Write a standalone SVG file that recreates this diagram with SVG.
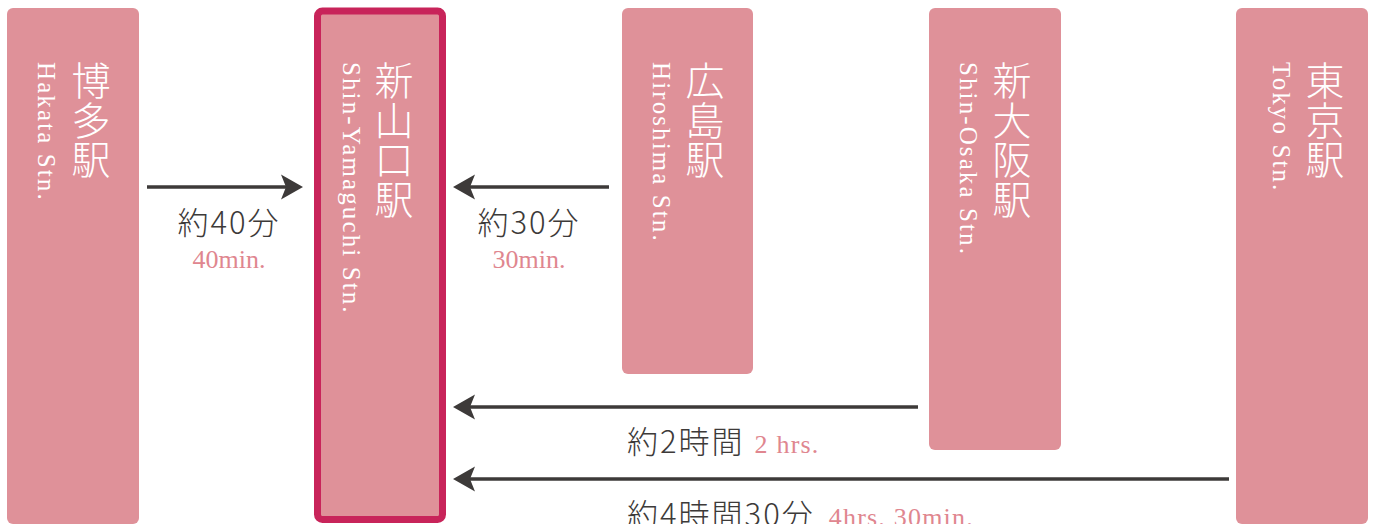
<svg xmlns="http://www.w3.org/2000/svg" width="1373" height="524" viewBox="0 0 1373 524">
<style>
.box{fill:#df9199}
.sel{fill:#df9199;stroke:#c8245a;stroke-width:7}
.jp{font-family:"Noto Sans CJK JP",sans-serif;font-weight:300;font-size:39px;fill:#fff;text-anchor:middle}
.en{font-family:"Liberation Serif",serif;font-size:25px;letter-spacing:2.1px;fill:#fff}
.lbl{font-family:"Noto Sans CJK JP",sans-serif;font-weight:300;font-size:31px;letter-spacing:2px;fill:#3d3a39}
.sub{font-family:"Liberation Serif",serif;font-size:26px;fill:#e0868f}
.subw{letter-spacing:1.2px}
.con{stroke:#3d3a39;stroke-width:3.5;fill:none;marker-end:url(#ah)}
</style>
<defs>
<marker id="ah" viewBox="-8 -13 24 26" markerWidth="24" markerHeight="26" refX="0" refY="0" markerUnits="userSpaceOnUse" orient="auto">
<path d="M15,0 L-7,-12.5 L-2,0 L-7,12.5 Z" fill="#3d3a39"/>
</marker>
</defs>
<g id="hakata">
<rect class="box" x="7" y="8" width="132" height="516" rx="6"/>
<text class="jp"><tspan x="91" y="95">博</tspan><tspan x="91" y="134.5">多</tspan><tspan x="91" y="174">駅</tspan></text>
<text class="en" transform="translate(38,62) rotate(90)">Hakata Stn.</text>
</g>
<g id="shinyamaguchi">
<rect class="sel" x="317.5" y="11" width="125" height="508.5" rx="5"/>
<text class="jp"><tspan x="394" y="95">新</tspan><tspan x="394" y="134.5">山</tspan><tspan x="394" y="174">口</tspan><tspan x="394" y="213.5">駅</tspan></text>
<text class="en" transform="translate(343,62) rotate(90)">Shin-Yamaguchi Stn.</text>
</g>
<g id="hiroshima">
<rect class="box" x="622" y="8" width="131" height="366" rx="6"/>
<text class="jp"><tspan x="705" y="95">広</tspan><tspan x="705" y="134.5">島</tspan><tspan x="705" y="174">駅</tspan></text>
<text class="en" transform="translate(653,62) rotate(90)">Hiroshima Stn.</text>
</g>
<g id="shinosaka">
<rect class="box" x="929" y="8" width="132" height="442" rx="6"/>
<text class="jp"><tspan x="1012" y="95">新</tspan><tspan x="1012" y="134.5">大</tspan><tspan x="1012" y="174">阪</tspan><tspan x="1012" y="213.5">駅</tspan></text>
<text class="en" transform="translate(960,62) rotate(90)">Shin-Osaka Stn.</text>
</g>
<g id="tokyo">
<rect class="box" x="1236" y="8" width="132" height="516" rx="6"/>
<text class="jp"><tspan x="1325" y="95">東</tspan><tspan x="1325" y="134.5">京</tspan><tspan x="1325" y="174">駅</tspan></text>
<text class="en" transform="translate(1273,62) rotate(90)">Tokyo Stn.</text>
</g>
<g id="connectors">
<line class="con" x1="147" y1="187" x2="288" y2="187"/>
<line class="con" x1="609" y1="187" x2="468" y2="187"/>
<line class="con" x1="918" y1="407" x2="468" y2="407"/>
<line class="con" x1="1229" y1="479" x2="468" y2="479"/>
</g>
<g id="labels">
<text class="lbl" x="229" y="234" text-anchor="middle">約40分</text>
<text class="sub" x="229" y="268" text-anchor="middle">40min.</text>
<text class="lbl" x="529" y="234" text-anchor="middle">約30分</text>
<text class="sub" x="529" y="268" text-anchor="middle">30min.</text>
<text x="627" y="453"><tspan class="lbl">約2時間</tspan><tspan class="sub subw" dx="10">2 hrs.</tspan></text>
<text x="627" y="526"><tspan class="lbl">約4時間30分</tspan><tspan class="sub subw" dx="14">4hrs. 30min.</tspan></text>
</g>
</svg>
